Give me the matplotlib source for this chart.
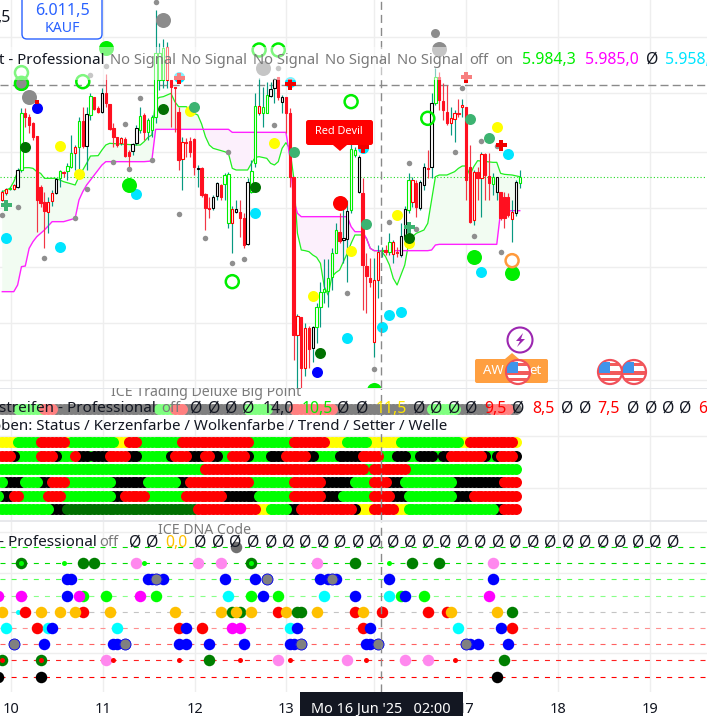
import numpy as np
import matplotlib
matplotlib.use('Agg')
import matplotlib.pyplot as plt
from matplotlib.patches import Circle, FancyBboxPatch, Polygon, Rectangle

plt.rcParams['font.family'] = ['Noto Sans', 'DejaVu Sans']

# candles, one per hour
kind = list('hhghkgrrrrrrhhkgrggh' 'grkgrrkrrrrhrrkkgrgg' 'ggghrrrhrrrkrrrkkrgg' 'hkrrkgghggkkrkrrrhrh'
            'rkggggggrkkggkrrrhhg' 'rghrkkghrkkrkgrrrhhr' 'hrrhrhrrgkrrrhkg')
opens = [5977,5979,5980.3,5980.4,5981,5986,6003,6002,6000,5996.2,5981,5976.5,5973.5,5976.7,5979.2,5983.5,5985.5,5985.8,5987,5991.2,
         5993,6000.7,5993.3,6002.5,6008,6004.7,6003.5,6009,6005.8,5998.5,5995.8,5994,5995.3,5991.5,5991.8,5994,5998,6002.6,5997.5,5998,
         6002,6013,6013,6013,6013,6011,6003.5,5989.2,5994.5,5994.8,5995.2,5986.2,5986.7,5978.7,5974.5,5974.5,5978.2,5981.5,5981.8,5970.2,
         5970,5973.3,5973.5,5971.5,5963.7,5979.5,5988,6003,6003,6003,6008.3,6010.5,6013.8,6006.5,6007.8,6003,5984,5936.5,5942,5926.7,
         5938.5,5932.7,5939,5945,5949.3,5949.8,5954,5961.2,5967.5,5965,5965.2,5974,5990.5,5979.3,5979,5957.2,5953.5,5934.5,5953,5961.8,
         5962,5961.5,5960.7,5961.5,5960.4,5965.7,5974,5976.5,5982.2,5974.5,5981.5,5986.7,5986.8,6006,6014,6006.8,6003.5,6000.2,6001.2,6003.2,
         6004.8,6004.8,5987,5971,5985.5,5983.5,5990.7,5984.2,5981.8,5979.5,5979.3,5978,5978,5971.2,5973,5982.2]
highs = [5980,5980.5,5981,5981.9,5986.5,6004.5,6004.5,6002.8,6000.5,5996.2,5981.5,5979.5,5978,5980,5983.7,5986,5985.8,5988,5996.5,5993.5,
         6002,6005,6005,6009,6008,6005.2,6010.5,6014.8,6005.8,6000,5996,5996,5996,5992,5994.2,5999.5,6005,6003,6001.5,6002.5,
         6034,6024,6025.2,6024.5,6013,6011,6005,5996,5995.5,5996,5995.5,5987.5,5987,5979,5978,5978.5,5982.5,5981.7,5985,5985.5,
         5975.2,5977,5977,5973,5983.5,5989,6009,6013.5,6011,6012.5,6012.5,6013.5,6014,6008.5,6008,6004.5,5984,5942.7,5942,5940,
         5939.2,5939.2,5946,5952.3,5959.2,5959.2,5962.5,5970,5973,5977,5977,5996,5993,5990.5,5983.5,5961,5959.5,5959.5,5963.5,5963,
         5963.5,5967.2,5965,5963,5970,5975.2,5985,5984,5983,5983,5988,5992,6009,6016.5,6015.5,6012,6011.5,6005,6004,6007.3,
         6007.3,6004.8,5993.5,5986,5987,5991.5,5991,5991,5985,5984,5979.5,5979.5,5979,5977,5983,5986]
lows = [5976.7,5978.5,5980,5980.1,5980.5,5985.5,5999,5997,5995,5967.5,5975,5962.5,5967,5975.3,5978.8,5981,5984,5983,5986.5,5986,
        5986,5992.5,5986,6001,6004,6003,6003,6005,5998,5993,5993,5993.5,5990,5987,5990.5,5993.5,5997,5995,5995,5996,
        6000,6010,6010.5,6010.5,5999,5997.5,5986,5980,5990,5990,5984.5,5981,5978,5968,5971.5,5974,5977,5977,5977,5968.5,
        5961,5973,5966,5962.5,5963.5,5979,5987,6002.5,5999,6003,6008,6006,6007,6003,5997,5981,5929,5920.5,5920.5,5924.2,
        5926.5,5928.5,5934,5939,5946,5945,5950,5961,5964,5958,5952.5,5973,5990,5979,5944,5943.2,5951,5930,5947.5,5960,
        5960.5,5960.5,5958,5960,5960,5965.5,5973,5975,5972,5974,5980,5983.5,5983.5,6005.5,6004,6001,5999.5,5996.5,5994.5,6002,
        6002,5977,5970,5969.5,5977,5972,5977,5977,5978.5,5977,5971,5968.5,5972,5964.5,5972.3,5980.7]
closes = [5979.3,5980.2,5980.7,5981.4,5985.9,6003,6001.8,5999.5,5996,5977,5976.2,5973.8,5976.5,5979.2,5983.2,5985.8,5985.2,5987.2,5991.2,5992.8,
          6000.7,5993.3,6002.7,6008.2,6004.3,6003.3,6009,6006,5998.2,5995.8,5993.5,5995.5,5990.3,5990.3,5993.7,5998.5,6002.3,5997.5,6001,6002,
          6021,6021,6022.7,6023,6011,6010.5,5989,5994.5,5994,5991.5,5987,5986.7,5978.5,5974.5,5974.2,5978,5982.2,5978,5984.5,5984.8,
          5974.2,5974.2,5971.5,5963.5,5982.5,5985.8,6005.2,6005.2,6005,6008.5,6010.2,6013.2,6008,6008,6003,5984,5936.5,5942.2,5926.7,5938.5,
          5932.3,5939,5944.8,5949.5,5950.2,5953.5,5961,5968,5964.8,5965.5,5973.8,5992.2,5992,5990,5957.5,5954.2,5952.3,5953,5961.5,5962,
          5961.5,5964.3,5964.3,5961.2,5966.2,5974.2,5983,5983,5974.8,5982.5,5986.8,5986.4,6006,6013.8,6007,6004,6000,6001.5,6003,6002.8,
          6005.4,5983,5970.5,5985.5,5983.5,5990.7,5984.5,5982,5983.8,5984,5971.5,5971.5,5972.5,5973.5,5982.5,5984]

# cloud lines on one shared bar grid
cloud_k = [0,2,3,4,5,6,7,8,9,10,11,13,14,16,19,20,21,22,23,25,26,27,28,35,36,37,38,39,40,41,42,43,44,45,46,48,49,50,51,52,53,54,55,58,59,
           60,61,64,65,66,67,69,70,71,72,73,74,75,76,77,78,79,80,81,82,83,84,85,86,87,88,89,90,91,92,93,94,95,96,97,98,99,100,101,102,103,
           104,105,106,107,108,110,111,112,113,114,116,117,118,119,120,121,122,123,124,128,129,130,131,133,135]
cloud_up = [5979.5,5980.5,5982.5,5985.5,5986.5,5986.7,5986.7,5986.5,5985.5,5985,5983.5,5983.5,5983.5,5982.5,5981.5,5984,5986,5988,5990.2,5990.3,5992,5993.5,5994,5993.5,5993.5,5994.5,5995.8,5996.5,
            6007,6007.8,6008,6008.5,6009,6006.5,6005,6005,6004,6003,6002.5,5999.8,5996,5993.5,5992.5,5991.5,5991,
            5986.5,5986,5986,5988,5989.8,5990,5989.5,5988,5987.5,5988.5,5992.5,5994.2,5992.5,5984,5967,5962,5961.8,5961.5,5960.5,5959.8,5958,5951,5948.5,5954,5955.2,5956,5958.5,5961,5964,
            5966.5,5966.5,5966.5,5965.5,5962.5,5961.8,5961.8,5961.5,5960,5957.5,5953.5,5951.5,5954.5,5957.5,5964,5966,5967,5968,5970,5977,5984,5984.5,5984.5,5985,5985.5,5986.5,5987.2,5987.2,5984.5,5987,5988.8,5988.3,5988.3,5985,5984.7,5984.5,5984]
cloud_dn = [5949.5,5949.5,5949.5,5951.5,5957,5957.2,5962.5,5964.5,5966,5967,5968,5970.5,5970.5,5970.5,5971.5,5977,5979.5,5981.5,5983,5986,5987.5,5988.5,5988.5,5988.5,5988.5,5988.5,5988.6,5988.7,
            5998.2,5998.2,5998.2,5998.2,5998.2,5998.2,5998.2,5998.2,5998.2,5998.2,5998.2,5998.2,5998.2,5998.2,5998.2,5998.2,5998.2,
            5997.3,5997.3,5997.3,5997.3,5997.3,5997.3,5997.3,5997.3,5997.3,5997.3,5997.3,5997.3,5990,5977,5973,5972,5972,5972,5972,5972,5972,5972,5972,5972,5972,5972,5972,5972,5969,
            5967.5,5967.5,5967.5,5965.5,5962.5,5961.8,5961.8,5961.8,5961.8,5961.8,5961.8,5961.8,5961.8,5961.8,5961.8,5961.8,5961.8,5961.8,5961.8,5962,5963.5,5963.7,5963.7,5963.7,5963.7,5963.7,5963.7,5963.7,5963.7,5963.7,5963.7,5963.7,5963.7,5973.5,5973.5,5973.8,5973.8]

# signal dots on the price pane
gray_k = [40,23,27,36,32,29,33,39,22,59,71,72,0,4,19,11,46,53,60,63,90,120,125,129,118,106,101,108,123,130,97]
gray_p = [6036.5,6014.6,6017.3,6007.5,5999.7,5988.3,5986.2,5988.9,5980.2,5991.3,5999.4,6016.5,5972.5,5974.8,5971.5,5959.5,5972.7,5965.5,5958,5959.2,5949,6010.6,5994.8,5993.2,5991.3,5988,5970.3,5968.4,5966.1,5961.3,5926.2]
big_gray_k = [7,42,68,114,5]
big_gray_p = [6008,6031,6016.5,6022.2,6012]
mid_gray_k = [113]
mid_gray_p = [6027]
ring_k = [5,5,21,72,67,91,111,60]
ring_p = [6015.2,6012,6012.5,6022,6022,6006.5,6001.5,5952.5]
blue_k = [9,82]
blue_p = [6004.5,5925.5]
dark_k = [6,42,66,83,106]
dark_p = [5993,6004.2,5980.8,5931,5965.5]
sea_k = [50,76,122,127,95]
sea_p = [6004.8,5991.5,6001.2,5995.5,5969.7]
yellow_k = [15,20,49,71,129,81,91,103,106]
yellow_p = [5993.3,5984.8,6003.8,5994,5999,5948.3,5961.8,5972.4,5964]
lime_k = [27,33,123,133,97]
lime_p = [6022.5,5981.5,5960,5955,5920]
cyan_k = [35,1,15,66,90,125,99,101,104,132,46,75,94]
cyan_p = [5978.7,5965.5,5963,5973,5935.5,5955.3,5938.8,5942.4,5943.3,5990.7,6014,6012.3,5992.5]
redbig_k = [88]
redbig_p = [5976]
orange_k = [133]
orange_p = [5958.8]
cross_k = [46,75,121,130,94]
cross_p = [6013.5,6011.8,6013.9,5993.4,5993]
greencross_k = [1,106]
greencross_p = [5975.5,5969]

# colour strips: first bar of each run and its colour
strip_gray_first = [-1,4,11,14,41,45,48,64,70,76,87,112,119,128,133]
strip_gray_cols = 'abcabcabacabaca'
strip1_first = [-1,4,10,17,18,30,33,36,47,65,76,85,90,96,104,120,122,134]
strip1_cols = 'ygrygyrgrgrygygyry'
strip2_first = [-1,3,4,10,14,15,19,20,23,24,28,33,36,44,45,49,53,55,57,60,64,65,70,74,80,82,88,94,99,103,106,109,113,115,117,126,127,129,130,134]
strip2_cols = 'rkgrkgrkgkrkgkrkrkgrkgkrkgkrgkgkgkrkgkrk'
strip3_first = [-1,53,95,97,106]
strip3_cols = 'grgrg'
strip4_first = [-1,1,6,10,13,17,29,38,46,49,65,76,84,92,97,101,105,118,131]
strip4_cols = 'gkgkrgkgkrgrkgrkgkr'
strip5_first = [-1,0,3,5,12,16,29,32,38,48,58,67,74,76,84,89,97,102,106,118,123]
strip5_cols = 'gkrgrgkrgrkggrkgrkgkr'
strip6_first = [-1,13,17,51,67,70,75,78,92,93,97,103,106,129,131]
strip6_cols = 'gkdrygkrkyrygkr'

# DNA pane rows: bar numbers and colour codes
dna0_k, dna0_c = [61], 'g'
dna1_k, dna1_c = [5,16,21,24,35,37,51,57,65,82,92,101,107,114,128], 'ElDDPlPPEPDlDDP'
dna2_k, dna2_c = [17,18,38,39,42,40,58,66,69,83,85,87,86,101,128], 'BBBBBGBBGBBBGBB'
dna3_k, dna3_c = [-1,5,17,21,20,27,36,40,59,65,68,72,84,92,101,104,105,110,127], 'MMBLMLMLCLBLCBCLBLM'
dna4_k, dna4_c = [0,4,6,10,15,21,19,28,45,57,60,62,61,65,72,74,77,78,82,92,94,99,111,116,117,129,133], 'OcROOROOOODDOORODDORORRROOD'
dna5_k, dna5_c = [1,9,12,13,30,46,48,52,60,62,75,77,94,96,119,130,133], 'CRCBCRBRMMCBRBCBR'
dna6_k, dna6_c = [3,11,29,30,32,46,48,54,63,75,76,78,95,96,98,122,121,124,132], 'GBBBGBBBBBBGBBGBGBB'
dna7_k, dna7_c = [0,10,27,29,46,54,62,72,75,90,95,105,111,118,131], 'FFPrrDrPrPrPPrD'
dna8_k, dna8_c = [-1,10,129], 'KKK'
dna_rows = [(dna0_k,dna0_c),(dna1_k,dna1_c),(dna2_k,dna2_c),(dna3_k,dna3_c),(dna4_k,dna4_c),
            (dna5_k,dna5_c),(dna6_k,dna6_c),(dna7_k,dna7_c),(dna8_k,dna8_c)]
dna_line_cols = ['#00e000','#00dd00','#55ff55','#88ff88','#c4c4c4','#ff9090','#ff6060','#ff2020','#ff0000']

day_ticks = [2.2,26.2,50.2,74.0,97.0,121.0,145.0,169.0]
day_labels = ['10','11','12','13','','17','18','19']
price_grid = [6026,6009,5991.5,5974.5,5957,5940,5923]
buy_price = 6011.4
last_price = 5983.8
cross_bar = 98.9

W, H = 707, 716
fig = plt.figure(figsize=(W/100, H/100), dpi=100)
GRID = '#eeeeee'
XL = (-0.6, 183.85)

def pane(top, bottom):
    a = fig.add_axes([0, 1-bottom/H, 1, (bottom-top)/H])
    a.set_xlim(*XL)
    a.set_xticks(day_ticks)
    a.grid(True, color=GRID, lw=1)
    a.set_axisbelow(True)
    a.tick_params(length=0, labelbottom=False, labelleft=False)
    for s in a.spines.values():
        s.set_visible(False)
    return a

def px(d):
    # diameter in pixels to scatter size
    return (d*0.72)**2

def dots(a, x, y, c, d, z=5, **kw):
    a.scatter(x, y, s=px(d), c=c, linewidths=0, zorder=z, **kw)

ax1 = pane(0, 388)
ax2 = pane(388, 520)
ax3 = pane(522, 692)
ax1.set_ylim(5920.6, 6037)
ax1.set_yticks(price_grid)
ax2.set_ylim(5.84, -4.08)
ax2.set_yticks([-0.5, 3.45])
ax3.set_ylim(8.95, -1.54)
ax3.set_yticks([-0.95, 1.58, 6.56])

# cloud
k = np.array(cloud_k)
up = np.array(cloud_up)
dn = np.array(cloud_dn)
ax1.fill_between(k, up, dn, where=up >= dn, interpolate=True, color='#f2fcf2', lw=0, zorder=1)
ax1.fill_between(k, up, dn, where=up <= dn, interpolate=True, color='#fcf0fc', lw=0, zorder=1)
ax1.plot(k, up, color='#20f020', lw=0.9, zorder=2)
ax1.plot(k, dn, color='#ff22ff', lw=1.0, zorder=2)

ax1.axhline(buy_price, color='#8a8a8a', lw=1.0, dashes=(5.8, 3), zorder=2)
ax1.axhline(last_price, color='#22dd22', lw=0.8, dashes=(1, 2), zorder=2)

# candles
WICK = {'g': '#089981', 'k': '#089981', 'h': '#089981', 'r': '#f23645'}
EDGE = {'g': '#00ee00', 'k': '#000000', 'h': '#ff0000', 'r': '#ff1020'}
for i, t in enumerate(kind):
    ax1.vlines(i, lows[i], highs[i], color=WICK[t], lw=0.85, zorder=3)
    b = min(opens[i], closes[i])
    hgt = abs(closes[i]-opens[i])
    face = '#ff1020' if t == 'r' else 'white'
    ax1.bar(i, hgt, bottom=b, width=0.6, facecolor=face, edgecolor=EDGE[t], linewidth=0.8, zorder=4)

# price pane signals
dots(ax1, yellow_k, yellow_p, '#ffff00', 11)
dots(ax1, cyan_k, cyan_p, '#00e5ff', 11)
dots(ax1, blue_k, blue_p, '#0000ff', 11)
dots(ax1, dark_k, dark_p, '#007000', 11, z=6)
dots(ax1, sea_k, sea_p, '#3cb371', 11)
dots(ax1, lime_k, lime_p, '#00ee00', 15)
dots(ax1, redbig_k, redbig_p, '#ff0000', 15)
dots(ax1, big_gray_k, big_gray_p, '#8c8c8c', 15, z=5)
dots(ax1, mid_gray_k, mid_gray_p, '#8c8c8c', 9)
dots(ax1, gray_k, gray_p, '#8f8f8f', 5.5, z=6)
ax1.scatter(ring_k, ring_p, s=px(13), facecolors='none', edgecolors='#00ee00', linewidths=1.8, zorder=6)
ax1.scatter(orange_k, orange_p, s=px(13), facecolors='none', edgecolors='#ff9a3c', linewidths=1.8, zorder=6)
ax1.scatter(cross_k, cross_p, s=px(11), marker='P', c='#f00000', linewidths=0, zorder=7)
ax1.scatter(greencross_k, greencross_p, s=px(11), marker='P', c='#3cb371', linewidths=0, zorder=7)
ax1.scatter([blue_k[0]], [6006.5], s=px(3.5), marker='s', c='#f00000', linewidths=0, zorder=6)

# strips
STRIP = {'y': '#ffff00', 'g': '#00ff00', 'r': '#ff0000', 'k': '#000000', 'd': '#007000',
         'a': '#808080', 'b': '#80ff80', 'c': '#ff8080'}

def strip(row, first, cols, order, d=11):
    last = first[1:] + [135]
    for col in order:
        xs = []
        for f, e, c in zip(first, last, cols):
            if c == col:
                xs += list(range(f, e))
        if xs:
            dots(ax2, xs, [row]*len(xs), STRIP[col], d, z=3)

strip(-2.5, strip_gray_first, strip_gray_cols, 'abc')
strip(0, strip1_first, strip1_cols, 'ygr')
strip(1, strip2_first, strip2_cols, 'gkr')
strip(2, strip3_first, strip3_cols, 'gr')
strip(3, strip4_first, strip4_cols, 'kgr')
strip(4, strip5_first, strip5_cols, 'kgr')
strip(5, strip6_first, strip6_cols, 'ykgdr')

# DNA pane
DNA = {'D': '#007f00', 'P': '#ff88ee', 'B': '#0000ff', 'G': '#808080', 'g': '#707070', 'M': '#ff00ff', 'L': '#00ff00',
       'C': '#00ffff', 'O': '#ffc000', 'R': '#ff0000', 'K': '#000000', 'l': '#00ff00', 'r': '#ff0000',
       'c': '#00ffff', 'E': '#007f00', 'F': '#007f00'}
for row, (xs, cs) in enumerate(dna_rows):
    ax3.plot([XL[0], XL[1]], [row, row], color=dna_line_cols[row], lw=0.8, dashes=(4.5, 5.5), zorder=2)
    for x, c in zip(xs, cs):
        size = 5 if c in 'lrc' else 11.5
        dots(ax3, [x], [row], DNA[c], size, z=3)
        if c == 'E':
            dots(ax3, [x], [row], '#00ff00', 5, z=4)
        if c == 'F':
            dots(ax3, [x], [row], '#ff0000', 5, z=4)
        if c == 'G':
            ax3.scatter([x], [row], s=px(11), facecolors='#808080', edgecolors='#0000ff', linewidths=0.6, zorder=4)

for a in (ax1, ax2, ax3):
    a.axvline(cross_bar, color='#8a8a8a', lw=1.0, dashes=(5.8, 3.6), zorder=8)

ax3.tick_params(labelbottom=True, pad=7, labelsize=10.5, labelcolor='#131722')
ax3.set_xticklabels(day_labels)

# overlay in pixel units for labels, legends and event badges
ov = fig.add_axes([0, 0, 1, 1], zorder=10)
ov.set_xlim(0, W)
ov.set_ylim(H, 0)
ov.axis('off')

ov.add_patch(Rectangle((0, 47), 520, 33, color='white', alpha=0.5, lw=0))
ov.add_patch(Rectangle((0, 387.5), W, 1, color='#e4e6ea', lw=0))
ov.add_patch(Rectangle((0, 519.5), W, 2.5, color='#e8e9ec', lw=0))

def txt(x, y, s, c='#131722', size=10.6, ha='left', **kw):
    return ov.text(x, y, s, color=c, fontsize=size, ha=ha, va='center', **kw)

GR = '#7a7a7a'
NUM = 11.4
# price legend
txt(11, 18, ',5', size=NUM, ha='right')
ov.add_patch(FancyBboxPatch((22, -6), 80, 45, boxstyle='round,pad=0,rounding_size=5', fc='white', ec='#2962ff', lw=1))
txt(62, 11, '6.011,5', c='#2962ff', size=11.6, ha='center', weight='bold')
txt(62, 28, 'KAUF', c='#2962ff', size=10.2, ha='center')
txt(-1, 60, 't - Professional', size=10.9)
for x in [110, 181, 253, 325, 397]:
    txt(x, 60, 'No Signal', c=GR)
txt(469, 60, 'off', c=GR)
txt(495, 60, 'on', c=GR)
txt(522, 60, '5.984,3', c='#00ee00', size=NUM)
txt(585, 60, '5.985,0', c='#ff00ff', size=NUM)
txt(652, 60, 'Ø', ha='center', size=NUM)
txt(665, 60, '5.958,', c='#00e5ff', size=NUM)

# Red Devil tag
ov.add_patch(FancyBboxPatch((306, 120), 67, 25, boxstyle='round,pad=0,rounding_size=2.5', fc='#ff0000', ec='none'))
ov.add_patch(Polygon([[333, 145], [347, 145], [340, 151]], fc='#ff0000', ec='none'))
txt(339, 132, 'Red Devil', c='white', size=7.9, ha='center', weight='bold')

# strip legend
t = txt(206, 393, 'ICE Trading Deluxe Big Point', c=GR, size=10.2, ha='center')
t.set_clip_box(ax2.bbox)
t.set_clip_on(True)
txt(-1, 409, 'streifen - Professional', size=11)
txt(161, 409, 'off', c=GR)
for x in [196, 214, 231, 248, 343, 362, 419, 436, 454, 471, 518, 567, 585, 633, 651, 668, 685]:
    txt(x, 409, 'Ø', ha='center', size=NUM)
txt(263, 409, '14,0', size=NUM)
txt(302, 409, '10,5', c='#00ee00', size=NUM)
txt(376, 409, '11,5', c='#ffe600', size=NUM)
txt(484, 409, '9,5', c='#ff0000', size=NUM)
txt(532, 409, '8,5', c='#ff0000', size=NUM)
txt(597, 409, '7,5', c='#ff0000', size=NUM)
txt(698, 409, '6', c='#ff0000', size=NUM)
txt(-7.6, 427, 'oben: Status / Kerzenfarbe / Wolkenfarbe / Trend / Setter / Welle', size=10.84)

# DNA legend
txt(205, 531, 'ICE DNA Code', c=GR, size=10.2, ha='center')
txt(-1, 543, '- Professional', size=11)
txt(99, 543, 'off', c=GR)
for x in [135, 152, 200, 218, 235, 253, 271, 288, 305, 323, 340, 358, 375, 393, 410, 428, 445, 463, 480,
          498, 515, 533, 550, 568, 585, 603, 620, 638, 655, 673]:
    txt(x, 543, 'Ø', ha='center', size=NUM)
txt(165, 543, '0,0', c='#ffc000', size=NUM)

# date tag
ov.add_patch(Rectangle((300, 692), 163, 24, color='#131722', lw=0))
txt(381, 709, "Mo 16 Jun '25   02:00", c='white', size=10.4, ha='center')

# event badges
ov.add_patch(FancyBboxPatch((475, 359), 73, 24, boxstyle='round,pad=0,rounding_size=2', fc='#ff9f40', ec='none'))
ov.add_patch(Polygon([[505, 359], [512, 353], [519, 359]], fc='#ff9f40', ec='none'))
txt(483, 371, 'AW', c='white', size=9.5, weight='bold')
txt(529, 371, 'et', c='white', size=9.5, weight='bold')
ov.add_patch(Circle((520, 340), 12.5, fc='white', ec='#9c27b0', lw=1.5))
ov.add_patch(Polygon([[523, 333], [516, 341], [520, 341], [517, 347], [525, 339], [521, 339]], fc='#9c27b0', ec='none'))

def flag(cx, cy):
    c = Circle((cx, cy), 12, fc='white', ec='#f0505a', lw=1.6)
    ov.add_patch(c)
    for y0, h in [(-9, 3), (-1, 4), (6, 3)]:
        r = Rectangle((cx-11, cy+y0), 22, h, color='#f25b5b', lw=0)
        ov.add_patch(r)
        r.set_clip_path(c)
    r = Rectangle((cx-11, cy-10), 11, 11, color='#3f94ea', lw=0)
    ov.add_patch(r)
    r.set_clip_path(c)

for cx in [518, 610, 634]:
    flag(cx, 372)

fig.savefig('out.png', dpi=100)
